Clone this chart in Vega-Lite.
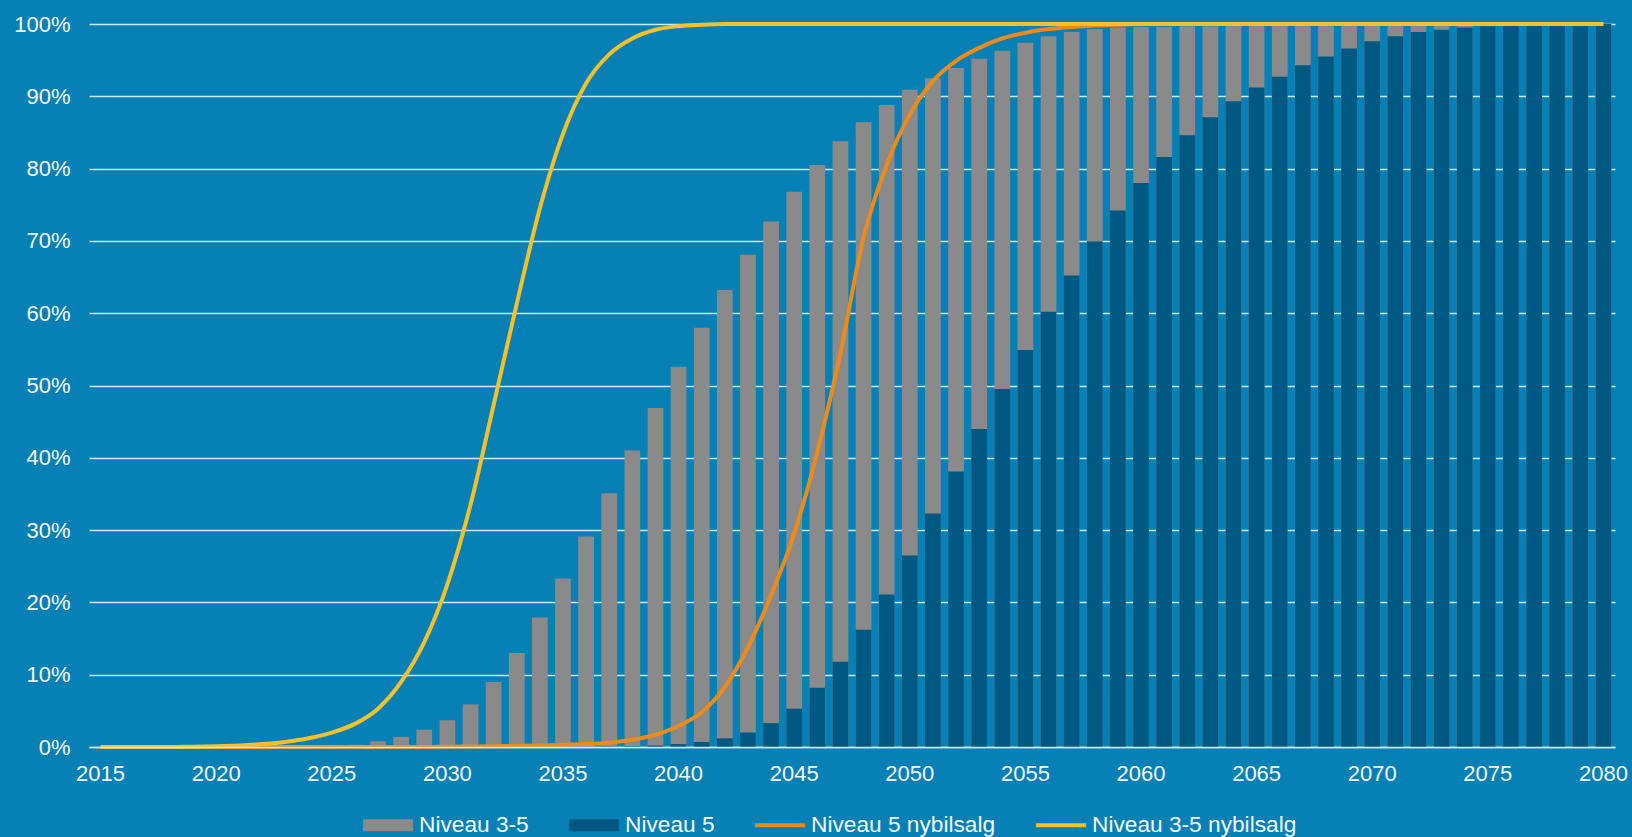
{
  "$schema": "https://vega.github.io/schema/vega-lite/v6.json",
  "width": 1526,
  "height": 723,
  "autosize": {"type": "none"},
  "padding": {"left": 89, "top": 24, "right": 17, "bottom": 90},
  "background": "#0780b5",
  "config": {
    "view": {"stroke": null},
    "axis": {
      "labelFont": "Liberation Sans",
      "labelFontSize": 22,
      "labelColor": "#f4fafd",
      "ticks": false,
      "title": null
    }
  },
  "data": {
    "values": [
      {"year": 2015, "lvl35": 0, "lvl5": 0, "lvl5_new": 0, "lvl35_new": 0},
      {"year": 2016, "lvl35": 0, "lvl5": 0, "lvl5_new": 0, "lvl35_new": 0},
      {"year": 2017, "lvl35": 0, "lvl5": 0, "lvl5_new": 0, "lvl35_new": 0},
      {"year": 2018, "lvl35": 0, "lvl5": 0, "lvl5_new": 0, "lvl35_new": 0},
      {"year": 2019, "lvl35": 0, "lvl5": 0, "lvl5_new": 0, "lvl35_new": 0.05},
      {"year": 2020, "lvl35": 0, "lvl5": 0, "lvl5_new": 0, "lvl35_new": 0.1},
      {"year": 2021, "lvl35": 0, "lvl5": 0, "lvl5_new": 0, "lvl35_new": 0.2},
      {"year": 2022, "lvl35": 0, "lvl5": 0, "lvl5_new": 0, "lvl35_new": 0.4},
      {"year": 2023, "lvl35": 0, "lvl5": 0, "lvl5_new": 0, "lvl35_new": 0.7},
      {"year": 2024, "lvl35": 0, "lvl5": 0, "lvl5_new": 0, "lvl35_new": 1.2},
      {"year": 2025, "lvl35": 0.1, "lvl5": 0, "lvl5_new": 0, "lvl35_new": 2.0},
      {"year": 2026, "lvl35": 0.3, "lvl5": 0, "lvl5_new": 0, "lvl35_new": 3.2},
      {"year": 2027, "lvl35": 0.8, "lvl5": 0, "lvl5_new": 0, "lvl35_new": 5.3},
      {"year": 2028, "lvl35": 1.4, "lvl5": 0, "lvl5_new": 0, "lvl35_new": 9.0},
      {"year": 2029, "lvl35": 2.4, "lvl5": 0, "lvl5_new": 0, "lvl35_new": 14.5},
      {"year": 2030, "lvl35": 3.7, "lvl5": 0, "lvl5_new": 0.05, "lvl35_new": 22.5},
      {"year": 2031, "lvl35": 5.9, "lvl5": 0, "lvl5_new": 0.07, "lvl35_new": 33.5},
      {"year": 2032, "lvl35": 9.0, "lvl5": 0, "lvl5_new": 0.1, "lvl35_new": 47.3},
      {"year": 2033, "lvl35": 13.0, "lvl5": 0, "lvl5_new": 0.15, "lvl35_new": 61.3},
      {"year": 2034, "lvl35": 17.9, "lvl5": 0, "lvl5_new": 0.2, "lvl35_new": 74.5},
      {"year": 2035, "lvl35": 23.3, "lvl5": 0, "lvl5_new": 0.3, "lvl35_new": 84.8},
      {"year": 2036, "lvl35": 29.1, "lvl5": 0, "lvl5_new": 0.4, "lvl35_new": 91.8},
      {"year": 2037, "lvl35": 35.1, "lvl5": 0.05, "lvl5_new": 0.6, "lvl35_new": 95.8},
      {"year": 2038, "lvl35": 41.0, "lvl5": 0.1, "lvl5_new": 1.0, "lvl35_new": 98.0},
      {"year": 2039, "lvl35": 46.9, "lvl5": 0.2, "lvl5_new": 1.7, "lvl35_new": 99.2},
      {"year": 2040, "lvl35": 52.6, "lvl5": 0.4, "lvl5_new": 2.9, "lvl35_new": 99.7},
      {"year": 2041, "lvl35": 58.0, "lvl5": 0.7, "lvl5_new": 4.8, "lvl35_new": 99.9},
      {"year": 2042, "lvl35": 63.2, "lvl5": 1.2, "lvl5_new": 8.3, "lvl35_new": 100},
      {"year": 2043, "lvl35": 68.1, "lvl5": 2.0, "lvl5_new": 13.8, "lvl35_new": 100},
      {"year": 2044, "lvl35": 72.7, "lvl5": 3.3, "lvl5_new": 21.0, "lvl35_new": 100},
      {"year": 2045, "lvl35": 76.8, "lvl5": 5.3, "lvl5_new": 29.5, "lvl35_new": 100},
      {"year": 2046, "lvl35": 80.5, "lvl5": 8.2, "lvl5_new": 40.8, "lvl35_new": 100},
      {"year": 2047, "lvl35": 83.8, "lvl5": 11.8, "lvl5_new": 54.5, "lvl35_new": 100},
      {"year": 2048, "lvl35": 86.4, "lvl5": 16.2, "lvl5_new": 70.5, "lvl35_new": 100},
      {"year": 2049, "lvl35": 88.8, "lvl5": 21.1, "lvl5_new": 80.5, "lvl35_new": 100},
      {"year": 2050, "lvl35": 90.9, "lvl5": 26.5, "lvl5_new": 87.5, "lvl35_new": 100},
      {"year": 2051, "lvl35": 92.5, "lvl5": 32.3, "lvl5_new": 92.1, "lvl35_new": 100},
      {"year": 2052, "lvl35": 93.9, "lvl5": 38.1, "lvl5_new": 94.9, "lvl35_new": 100},
      {"year": 2053, "lvl35": 95.2, "lvl5": 44.0, "lvl5_new": 96.7, "lvl35_new": 100},
      {"year": 2054, "lvl35": 96.3, "lvl5": 49.5, "lvl5_new": 98.0, "lvl35_new": 100},
      {"year": 2055, "lvl35": 97.4, "lvl5": 54.9, "lvl5_new": 98.8, "lvl35_new": 100},
      {"year": 2056, "lvl35": 98.3, "lvl5": 60.2, "lvl5_new": 99.3, "lvl35_new": 100},
      {"year": 2057, "lvl35": 98.9, "lvl5": 65.2, "lvl5_new": 99.6, "lvl35_new": 100},
      {"year": 2058, "lvl35": 99.3, "lvl5": 69.9, "lvl5_new": 99.8, "lvl35_new": 100},
      {"year": 2059, "lvl35": 99.5, "lvl5": 74.2, "lvl5_new": 99.9, "lvl35_new": 100},
      {"year": 2060, "lvl35": 99.6, "lvl5": 78.0, "lvl5_new": 100, "lvl35_new": 100},
      {"year": 2061, "lvl35": 99.6, "lvl5": 81.6, "lvl5_new": 100, "lvl35_new": 100},
      {"year": 2062, "lvl35": 99.7, "lvl5": 84.6, "lvl5_new": 100, "lvl35_new": 100},
      {"year": 2063, "lvl35": 99.7, "lvl5": 87.1, "lvl5_new": 100, "lvl35_new": 100},
      {"year": 2064, "lvl35": 99.75, "lvl5": 89.3, "lvl5_new": 100, "lvl35_new": 100},
      {"year": 2065, "lvl35": 99.8, "lvl5": 91.2, "lvl5_new": 100, "lvl35_new": 100},
      {"year": 2066, "lvl35": 99.8, "lvl5": 92.7, "lvl5_new": 100, "lvl35_new": 100},
      {"year": 2067, "lvl35": 99.85, "lvl5": 94.3, "lvl5_new": 100, "lvl35_new": 100},
      {"year": 2068, "lvl35": 99.85, "lvl5": 95.5, "lvl5_new": 100, "lvl35_new": 100},
      {"year": 2069, "lvl35": 99.9, "lvl5": 96.6, "lvl5_new": 100, "lvl35_new": 100},
      {"year": 2070, "lvl35": 99.9, "lvl5": 97.6, "lvl5_new": 100, "lvl35_new": 100},
      {"year": 2071, "lvl35": 99.9, "lvl5": 98.3, "lvl5_new": 100, "lvl35_new": 100},
      {"year": 2072, "lvl35": 99.95, "lvl5": 98.9, "lvl5_new": 100, "lvl35_new": 100},
      {"year": 2073, "lvl35": 100, "lvl5": 99.2, "lvl5_new": 100, "lvl35_new": 100},
      {"year": 2074, "lvl35": 100, "lvl5": 99.5, "lvl5_new": 100, "lvl35_new": 100},
      {"year": 2075, "lvl35": 100, "lvl5": 99.7, "lvl5_new": 100, "lvl35_new": 100},
      {"year": 2076, "lvl35": 100, "lvl5": 99.8, "lvl5_new": 100, "lvl35_new": 100},
      {"year": 2077, "lvl35": 100, "lvl5": 99.9, "lvl5_new": 100, "lvl35_new": 100},
      {"year": 2078, "lvl35": 100, "lvl5": 99.9, "lvl5_new": 100, "lvl35_new": 100},
      {"year": 2079, "lvl35": 100, "lvl5": 100, "lvl5_new": 100, "lvl35_new": 100},
      {"year": 2080, "lvl35": 100, "lvl5": 100, "lvl5_new": 100, "lvl35_new": 100}
    ]
  },
  "transform": [
    {"fold": ["lvl35", "lvl5", "lvl5_new", "lvl35_new"], "as": ["serie", "value"]}
  ],
  "encoding": {
    "x": {
      "field": "year",
      "type": "ordinal",
      "scale": {"type": "band", "paddingInner": 0.32, "paddingOuter": 0.16},
      "axis": {
        "values": [2015, 2020, 2025, 2030, 2035, 2040, 2045, 2050, 2055, 2060, 2065, 2070, 2075, 2080],
        "labelAngle": 0,
        "labelPadding": 16,
        "labelOverlap": false,
        "grid": false,
        "domainColor": "#c6ebf9",
        "domainWidth": 1.6,
        "zindex": 1
      }
    },
    "y": {
      "field": "value",
      "type": "quantitative",
      "stack": null,
      "scale": {"domain": [0, 100], "nice": false},
      "axis": {
        "values": [0, 10, 20, 30, 40, 50, 60, 70, 80, 90, 100],
        "labelExpr": "datum.value + '%'",
        "labelPadding": 19,
        "domain": false,
        "grid": true,
        "gridColor": "#c6ebf9",
        "gridWidth": 1.6,
        "gridOpacity": 1
      }
    },
    "color": {
      "field": "serie",
      "type": "nominal",
      "scale": {
        "domain": ["lvl35", "lvl5", "lvl5_new", "lvl35_new"],
        "range": ["#8a8a8a", "#005982", "#ec8b1c", "#f2c12c"]
      },
      "legend": {
        "orient": "none",
        "legendX": 274,
        "legendY": 776,
        "direction": "horizontal",
        "title": null,
        "padding": 0,
        "symbolSize": 2500,
        "symbolStrokeWidth": 0,
        "labelOffset": 6,
        "columnPadding": 40,
        "labelFont": "Liberation Sans",
        "labelFontSize": 22.7,
        "labelColor": "#f4fafd",
        "labelLimit": 400,
        "labelExpr": "datum.value == 'lvl35' ? 'Niveau 3-5' : datum.value == 'lvl5' ? 'Niveau 5' : datum.value == 'lvl5_new' ? 'Niveau 5 nybilsalg' : 'Niveau 3-5 nybilsalg'",
        "encode": {
          "symbols": {
            "update": {
              "shape": {"signal": "(datum.value == 'lvl35' || datum.value == 'lvl5') ? 'M-1,-0.24H1V0.24H-1Z' : 'M-1,-0.08H1V0.08H-1Z'"},
              "fill": {"signal": "datum.value == 'lvl35' ? '#8a8a8a' : datum.value == 'lvl5' ? '#005982' : datum.value == 'lvl5_new' ? '#ec8b1c' : '#f2c12c'"},
              "stroke": {"value": "transparent"},
              "strokeWidth": {"value": 0},
              "opacity": {"value": 1},
              "fillOpacity": {"value": 1}
            }
          }
        }
      }
    }
  },
  "layer": [
    {
      "transform": [{"filter": "datum.serie === 'lvl35'"}],
      "mark": {"type": "bar"}
    },
    {
      "transform": [{"filter": "datum.serie === 'lvl5'"}],
      "mark": {"type": "bar"}
    },
    {
      "transform": [{"filter": "datum.serie === 'lvl5_new'"}],
      "mark": {"type": "line", "strokeWidth": 4, "interpolate": "monotone"}
    },
    {
      "transform": [{"filter": "datum.serie === 'lvl35_new'"}],
      "mark": {"type": "line", "strokeWidth": 4, "interpolate": "monotone"}
    }
  ]
}
